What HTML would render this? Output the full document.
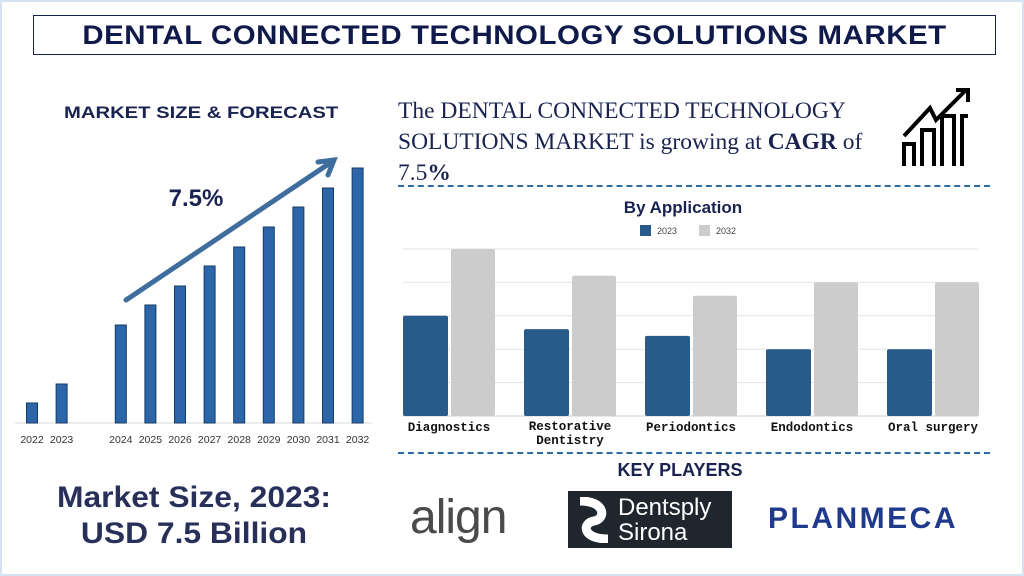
<!DOCTYPE html>
<html><head><meta charset="utf-8"><style>
body{margin:0;width:1024px;height:576px;overflow:hidden;background:#fff;font-family:"Liberation Sans",sans-serif;position:relative}
.abs{position:absolute}
.frame{left:0;top:0;width:1020px;height:572px;border:2px solid #d5e3f0}
.title{left:33px;top:15px;width:961px;height:38px;border:1px solid #1a2250;text-align:center;font:bold 27px/38px "Liberation Sans",sans-serif;color:#0f1a4a;letter-spacing:0.5px}
.title span{display:inline-block;transform:scaleX(1.09)}
.navy{color:#1a2250}
</style></head><body>
<div class="abs frame"></div>
<div class="abs title"><span>DENTAL CONNECTED TECHNOLOGY SOLUTIONS MARKET</span></div>
<div class="abs navy" style="left:64px;top:103px;font:bold 17px 'Liberation Sans',sans-serif;transform:scaleX(1.19);transform-origin:left">MARKET SIZE &amp; FORECAST</div>
<div class="abs" style="left:398px;top:96px;font:23.5px/31px 'Liberation Serif',serif;color:#1a2250;width:485px">The DENTAL CONNECTED TECHNOLOGY SOLUTIONS MARKET is growing at <b>CAGR</b> of 7.5<b>%</b></div>
<svg class="abs" style="left:898px;top:86px" width="76" height="84">
<g fill="none" stroke="#000" stroke-width="4"><path d="M6 80V58H16V80M24 80V44H36V80M44 80V30H56V80M64 80V30H70"/><path d="M6 50L32 22L38 34L68 4"/><path d="M58 4H70V16"/></g></svg>
<div class="abs" style="left:398px;top:185px;width:592px;border-top:2px dashed #2e6da4"></div>
<div class="abs" style="left:398px;top:452px;width:592px;border-top:2px dashed #2e6da4"></div>
<svg class="abs" style="left:0;top:0" width="1024" height="576" id="charts"></svg>
<div class="abs navy" style="left:24px;top:480px;width:340px;text-align:center;font:bold 30px/36px 'Liberation Sans',sans-serif;color:#28305a;transform:scaleX(1.06)">Market Size, 2023:<br>USD 7.5 Billion</div>
<div class="abs navy" style="left:560px;top:460px;width:240px;text-align:center;font:bold 18px 'Liberation Sans',sans-serif">KEY PLAYERS</div>
<div class="abs" style="left:410px;top:490px;font:48px 'Liberation Sans',sans-serif;color:#4a4a4a;letter-spacing:-1px">align</div>
<div class="abs" style="left:568px;top:491px;width:164px;height:57px;background:#1f262e;color:#fff"><svg class="abs" style="left:8px;top:6px" width="36" height="46"><path d="M4 4C30 4 30 22 18 24C6 26 6 42 32 42" stroke="#fff" stroke-width="9" fill="none"/></svg><div class="abs" style="left:50px;top:4px;font:24px/25px 'Liberation Sans',sans-serif">Dentsply<br>Sirona</div></div>
<div class="abs" style="left:768px;top:502px;font:bold 30px 'Liberation Sans',sans-serif;color:#1f3a8c;letter-spacing:2.5px">PLANMECA</div>
<script>
const NS='http://www.w3.org/2000/svg';
const svg=document.getElementById('charts');
function mk(t,a){const e=document.createElementNS(NS,t);for(const k in a)e.setAttribute(k,a[k]);svg.appendChild(e);return e;}
// Forecast chart data
const years=['2022','2023','2024','2025','2026','2027','2028','2029','2030','2031','2032'];
const slots=[0,1,3,4,5,6,7,8,9,10,11];
const sizes=[20,39,98,118,137,157,176,196,216,235,255];
const fx=i=>32+29.6*i, fBase=423, fy=v=>fBase-v;
mk('line',{x1:15,y1:fBase,x2:372,y2:fBase,stroke:'#d8d8d8'});
years.forEach((y,i)=>{
 const r=mk('rect',{x:fx(slots[i])-5.5,y:fy(sizes[i]),width:11,height:sizes[i],fill:'#2d66a8',stroke:'#163a66','stroke-width':1});
 
 
 const t=mk('text',{x:fx(slots[i]),y:443,'text-anchor':'middle','font-size':10.5,'font-family':'Liberation Sans, sans-serif',fill:'#333'});
 t.textContent=y;
 
 
});
const ar=mk('path',{d:'M126 300L330 163M318 162L334 160L328 175',stroke:'#3f6e9e','stroke-width':5,fill:'none','stroke-linecap':'round'});


const pc=mk('text',{x:196,y:206,'text-anchor':'middle','font-size':24,'font-weight':'bold','font-family':'Liberation Sans, sans-serif',fill:'#1a2250'});
pc.textContent='7.5%';


// Application chart data
const apps=['Diagnostics','Restorative|Dentistry','Periodontics','Endodontics','Oral surgery'];
const v2023=[3.0,2.6,2.4,2.0,2.0];
const v2032=[5.0,4.2,3.6,4.0,4.0];
const ticks=[0,1,2,3,4,5];
const aBase=416, unit=33.4, ay=v=>aBase-v*unit, ax=i=>403+121*i;
ticks.forEach(t=>{const l=mk('line',{x1:403,x2:978,y1:ay(t),y2:ay(t),stroke:t?'#e2e2e2':'#cfcfcf','stroke-width':1});
 
 });
const at=mk('text',{x:683,y:213,'text-anchor':'middle','font-size':17,'font-weight':'bold','font-family':'Liberation Sans, sans-serif',fill:'#1a2250'});
at.textContent='By Application';


[['2023','#285a8a',640],['2032','#cccccc',699]].forEach(([n,c,x])=>{
 const r=mk('rect',{x:x,y:225,width:11,height:11,fill:c});
 
 
 const t=mk('text',{x:x+17,y:234,'font-size':9,'font-family':'Liberation Sans, sans-serif',fill:'#444'});
 t.textContent=n;
 
 
});
apps.forEach((a,i)=>{
 const b1=mk('rect',{x:ax(i),y:ay(v2023[i]),width:45,height:v2023[i]*unit,fill:'#285a8a',rx:2});
 
 
 const b2=mk('rect',{x:ax(i)+48,y:ay(v2032[i]),width:44,height:v2032[i]*unit,fill:'#cccccc',rx:2});
 
 
 const parts=a.split('|');
 parts.forEach((p,j)=>{
  const t=mk('text',{x:ax(i)+46,y:(parts.length>1?430:431)+j*14,'text-anchor':'middle','font-size':12.5,'font-weight':'bold','font-family':'Liberation Mono, monospace',fill:'#111'});
  t.textContent=p;
  
  
 });
});
</script>
</body></html>
